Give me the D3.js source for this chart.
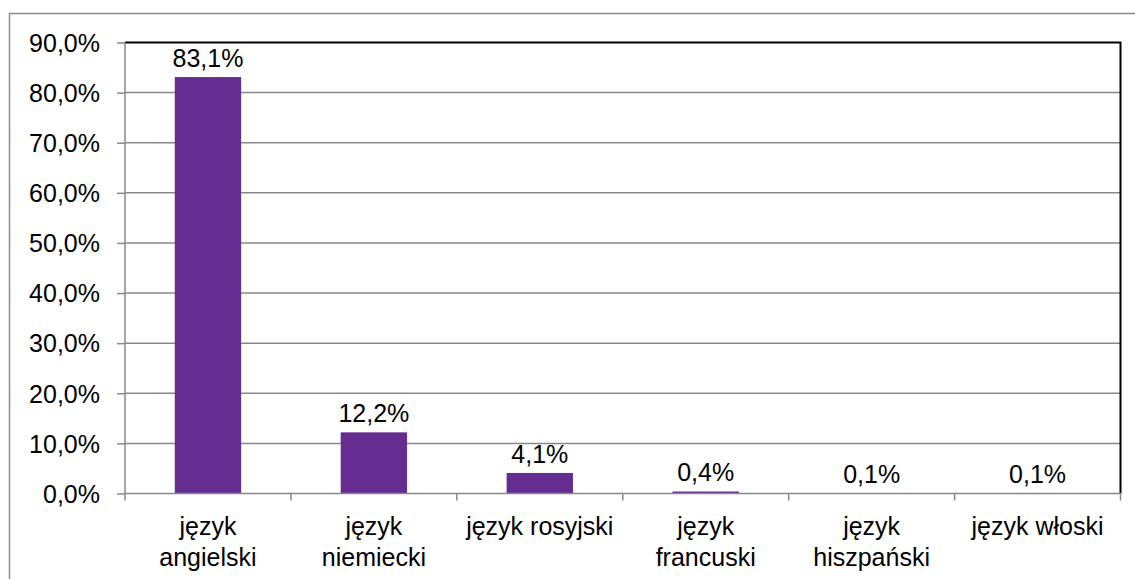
<!DOCTYPE html>
<html>
<head>
<meta charset="utf-8">
<script src="https://cdn.jsdelivr.net/npm/d3@7"></script>
<style>
body { margin: 0; background: #fff; }
svg { display: block; font-family: "Liberation Sans", Arial, sans-serif; }
.tick text { font-size: 25px; fill: #000; }
</style>
</head>
<body>
<svg id="chart" width="1135" height="579"></svg>
<script>
var categories = ["język angielski", "język niemiecki", "język rosyjski", "język francuski", "język hiszpański", "język włoski"];
var values = [83.1, 12.2, 4.1, 0.4, 0.1, 0.1];
var yTicks = [0, 10, 20, 30, 40, 50, 60, 70, 80, 90];

var svg = d3.select("#chart");
var plot = { left: 125, right: 1120.5, top: 42.5, bottom: 493.5 };

// outer chart border
svg.append("rect")
    .attr("x", 9.5).attr("y", 13.5)
    .attr("width", 1140).attr("height", 600)
    .attr("fill", "none")
    .attr("stroke", "#8c8c8c")
    .attr("stroke-width", 1.5);

var x = d3.scaleBand().domain(categories).range([plot.left, plot.right]).paddingInner(0).paddingOuter(0);
var y = d3.scaleLinear().domain([0, 90]).range([plot.bottom, plot.top]);

var fmt = function(v){ return d3.format(".1f")(v).replace(".", ",") + "%"; };

// gridlines
svg.append("g").selectAll("line")
    .data(yTicks.slice(1, -1))
    .join("line")
    .attr("x1", plot.left).attr("x2", plot.right)
    .attr("y1", function(d){ return y(d); }).attr("y2", function(d){ return y(d); })
    .attr("stroke", "#888").attr("stroke-width", 1.5);

// plot area border (top + right black)
svg.append("path")
    .attr("d", "M" + plot.left + "," + plot.top + "H" + plot.right + "V" + plot.bottom)
    .attr("fill", "none").attr("stroke", "#000").attr("stroke-width", 2);

// bars
var barW = x.bandwidth() * 0.4;
svg.append("g").selectAll("rect")
    .data(values)
    .join("rect")
    .attr("x", function(d, i){ return x(categories[i]) + (x.bandwidth() - barW) / 2; })
    .attr("y", function(d){ return y(d); })
    .attr("width", barW)
    .attr("height", function(d){ return y(0) - y(d); })
    .attr("fill", "#662d91");

// value labels
svg.append("g").selectAll("text")
    .data(values)
    .join("text")
    .attr("x", function(d, i){ return x(categories[i]) + x.bandwidth() / 2; })
    .attr("y", function(d){ return y(d) - 10; })
    .attr("text-anchor", "middle")
    .attr("font-size", 25)
    .text(fmt);

// y axis
var yAxis = svg.append("g")
    .attr("transform", "translate(" + plot.left + ",0)")
    .call(d3.axisLeft(y).tickValues(yTicks).tickSize(8).tickPadding(17).tickFormat(fmt));
yAxis.selectAll("line, path").attr("stroke", "#888").attr("stroke-width", 1.5);
yAxis.select(".domain").attr("d", "M0," + plot.top + "V" + plot.bottom);
yAxis.selectAll(".tick text").attr("dy", "0.35em");

// x axis: ticks at category boundaries
var xAxisG = svg.append("g").attr("transform", "translate(0," + plot.bottom + ")");
xAxisG.append("line")
    .attr("x1", plot.left).attr("x2", plot.right)
    .attr("stroke", "#888").attr("stroke-width", 1.5);
xAxisG.selectAll(".bt")
    .data(categories.concat(["end"]))
    .join("line")
    .attr("class", "bt")
    .attr("x1", function(d, i){ return i < categories.length ? x(d) : plot.right; })
    .attr("x2", function(d, i){ return i < categories.length ? x(d) : plot.right; })
    .attr("y1", 0).attr("y2", 7)
    .attr("stroke", "#888").attr("stroke-width", 1.5);

// category labels, wrapped to the band width
var labels = xAxisG.selectAll(".cl")
    .data(categories)
    .join("text")
    .attr("class", "cl")
    .attr("font-size", 25)
    .attr("text-anchor", "middle")
    .attr("x", function(d){ return x(d) + x.bandwidth() / 2; })
    .attr("y", 41);

labels.each(function(d){
    var t = d3.select(this);
    var words = d.split(" ");
    var lines = [];
    var cur = words[0];
    for (var i = 1; i < words.length; i++) {
        t.text(cur + " " + words[i]);
        if (this.getComputedTextLength() > 160) { lines.push(cur); cur = words[i]; }
        else cur = cur + " " + words[i];
    }
    lines.push(cur);
    t.text(null);
    lines.forEach(function(l, k){
        t.append("tspan").attr("x", x(d) + x.bandwidth() / 2).attr("dy", k ? 31 : 0).text(l);
    });
});
</script>
</body>
</html>
